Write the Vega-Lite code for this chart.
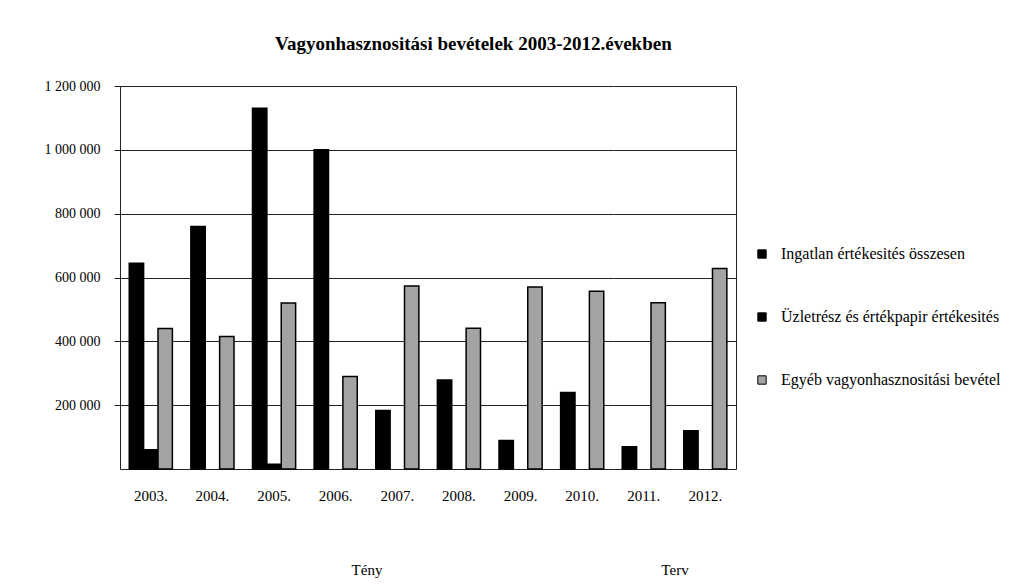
{
  "$schema": "https://vega.github.io/schema/vega-lite/v6.json",
  "autosize": {"type": "pad"},
  "padding": {"left": 44, "top": 35, "right": 5, "bottom": 5},
  "background": "white",
  "title": {"text": "Vagyonhasznositási bevételek 2003-2012.években", "font": "Liberation Serif", "fontSize": 19, "fontWeight": "bold", "color": "black", "anchor": "start", "frame": "bounds", "offset": 25, "dx": 231},
  "data": {"values": [
    {"year": "2003.", "grp": "Tény", "series": "Ingatlan értékesités összesen", "value": 645000},
    {"year": "2003.", "grp": "Tény", "series": "Üzletrész és értékpapir értékesités", "value": 60000},
    {"year": "2003.", "grp": "Tény", "series": "Egyéb vagyonhasznositási bevétel", "value": 440000},
    {"year": "2004.", "grp": "Tény", "series": "Ingatlan értékesités összesen", "value": 760000},
    {"year": "2004.", "grp": "Tény", "series": "Egyéb vagyonhasznositási bevétel", "value": 415000},
    {"year": "2005.", "grp": "Tény", "series": "Ingatlan értékesités összesen", "value": 1130000},
    {"year": "2005.", "grp": "Tény", "series": "Üzletrész és értékpapir értékesités", "value": 15000},
    {"year": "2005.", "grp": "Tény", "series": "Egyéb vagyonhasznositási bevétel", "value": 520000},
    {"year": "2006.", "grp": "Tény", "series": "Ingatlan értékesités összesen", "value": 1000000},
    {"year": "2006.", "grp": "Tény", "series": "Egyéb vagyonhasznositási bevétel", "value": 290000},
    {"year": "2007.", "grp": "Tény", "series": "Ingatlan értékesités összesen", "value": 183000},
    {"year": "2007.", "grp": "Tény", "series": "Egyéb vagyonhasznositási bevétel", "value": 573000},
    {"year": "2008.", "grp": "Tény", "series": "Ingatlan értékesités összesen", "value": 279000},
    {"year": "2008.", "grp": "Tény", "series": "Egyéb vagyonhasznositási bevétel", "value": 441000},
    {"year": "2009.", "grp": "Tény", "series": "Ingatlan értékesités összesen", "value": 89000},
    {"year": "2009.", "grp": "Tény", "series": "Egyéb vagyonhasznositási bevétel", "value": 570000},
    {"year": "2010.", "grp": "Tény", "series": "Ingatlan értékesités összesen", "value": 240000},
    {"year": "2010.", "grp": "Tény", "series": "Egyéb vagyonhasznositási bevétel", "value": 557000},
    {"year": "2011.", "grp": "Terv", "series": "Ingatlan értékesités összesen", "value": 70000},
    {"year": "2011.", "grp": "Terv", "series": "Egyéb vagyonhasznositási bevétel", "value": 521000},
    {"year": "2012.", "grp": "Terv", "series": "Ingatlan értékesités összesen", "value": 120000},
    {"year": "2012.", "grp": "Terv", "series": "Egyéb vagyonhasznositási bevétel", "value": 628000}
  ]},
  "spacing": 0,
  "resolve": {"scale": {"x": "independent", "y": "shared", "color": "shared"}, "legend": {"color": "shared"}},
  "hconcat": [
    {
      "width": 493,
      "height": 383,
      "transform": [{"filter": "datum.grp === 'Tény'"}],
      "mark": {"type": "bar", "stroke": "black", "strokeWidth": 1.5},
      "encoding": {
        "x": {"field": "year", "type": "nominal", "scale": {"paddingInner": 0.3, "paddingOuter": 0.15},
              "axis": {"title": "Tény", "labelAngle": 0, "ticks": false, "labelPadding": 19, "titlePadding": 59}},
        "xOffset": {"field": "series", "type": "nominal", "sort": null,
                    "scale": {"domain": ["Ingatlan értékesités összesen", "Üzletrész és értékpapir értékesités", "Egyéb vagyonhasznositási bevétel"], "paddingInner": 0, "paddingOuter": 0}},
        "y": {"field": "value", "type": "quantitative", "scale": {"domain": [0, 1200000], "nice": false},
              "axis": {"title": null, "values": [200000, 400000, 600000, 800000, 1000000, 1200000], "labelExpr": "replace(format(datum.value, ','), /,/g, ' ')", "grid": true, "tickSize": 6, "labelPadding": 14, "labelFontSize": 14}},
        "color": {"field": "series", "type": "nominal", "sort": null,
                  "scale": {"domain": ["Ingatlan értékesités összesen", "Üzletrész és értékpapir értékesités", "Egyéb vagyonhasznositási bevétel"], "range": ["#000000", "#000000", "#a3a3a3"]},
                  "legend": {"title": null, "orient": "none", "legendX": 634, "legendY": 160, "symbolType": "square", "symbolSize": 70, "symbolStrokeColor": "black", "symbolStrokeWidth": 1, "labelFont": "Liberation Serif", "labelFontSize": 16, "labelColor": "black", "labelLimit": 0, "rowPadding": 47, "labelOffset": 11}}
      }
    },
    {
      "width": 123,
      "height": 383,
      "transform": [{"filter": "datum.grp === 'Terv'"}],
      "mark": {"type": "bar", "stroke": "black", "strokeWidth": 1.5},
      "encoding": {
        "x": {"field": "year", "type": "nominal", "scale": {"paddingInner": 0.3, "paddingOuter": 0.15},
              "axis": {"title": "Terv", "labelAngle": 0, "ticks": false, "labelPadding": 19, "titlePadding": 59}},
        "xOffset": {"field": "series", "type": "nominal", "sort": null,
                    "scale": {"domain": ["Ingatlan értékesités összesen", "Üzletrész és értékpapir értékesités", "Egyéb vagyonhasznositási bevétel"], "paddingInner": 0, "paddingOuter": 0}},
        "y": {"field": "value", "type": "quantitative", "scale": {"domain": [0, 1200000], "nice": false},
              "axis": {"title": null, "orient": "right", "values": [200000, 400000, 600000, 800000, 1000000, 1200000], "labels": false, "ticks": false, "grid": true, "domain": true}},
        "color": {"field": "series", "type": "nominal", "sort": null,
                  "scale": {"domain": ["Ingatlan értékesités összesen", "Üzletrész és értékpapir értékesités", "Egyéb vagyonhasznositási bevétel"], "range": ["#000000", "#000000", "#a3a3a3"]},
                  "legend": {"title": null, "orient": "none", "legendX": 634, "legendY": 160, "symbolType": "square", "symbolSize": 70, "symbolStrokeColor": "black", "symbolStrokeWidth": 1, "labelFont": "Liberation Serif", "labelFontSize": 16, "labelColor": "black", "labelLimit": 0, "rowPadding": 47, "labelOffset": 11}}
      }
    }
  ],
  "config": {
    "font": "Liberation Serif",
    "view": {"stroke": null},
    "axis": {"labelFont": "Liberation Serif", "labelFontSize": 15, "labelColor": "black", "titleFont": "Liberation Serif", "titleFontSize": 15, "titleFontWeight": "normal", "titleColor": "black", "domainColor": "#222222", "domainWidth": 1, "gridColor": "#222222", "gridWidth": 1, "gridOpacity": 1, "tickColor": "#222222"}
  }
}
